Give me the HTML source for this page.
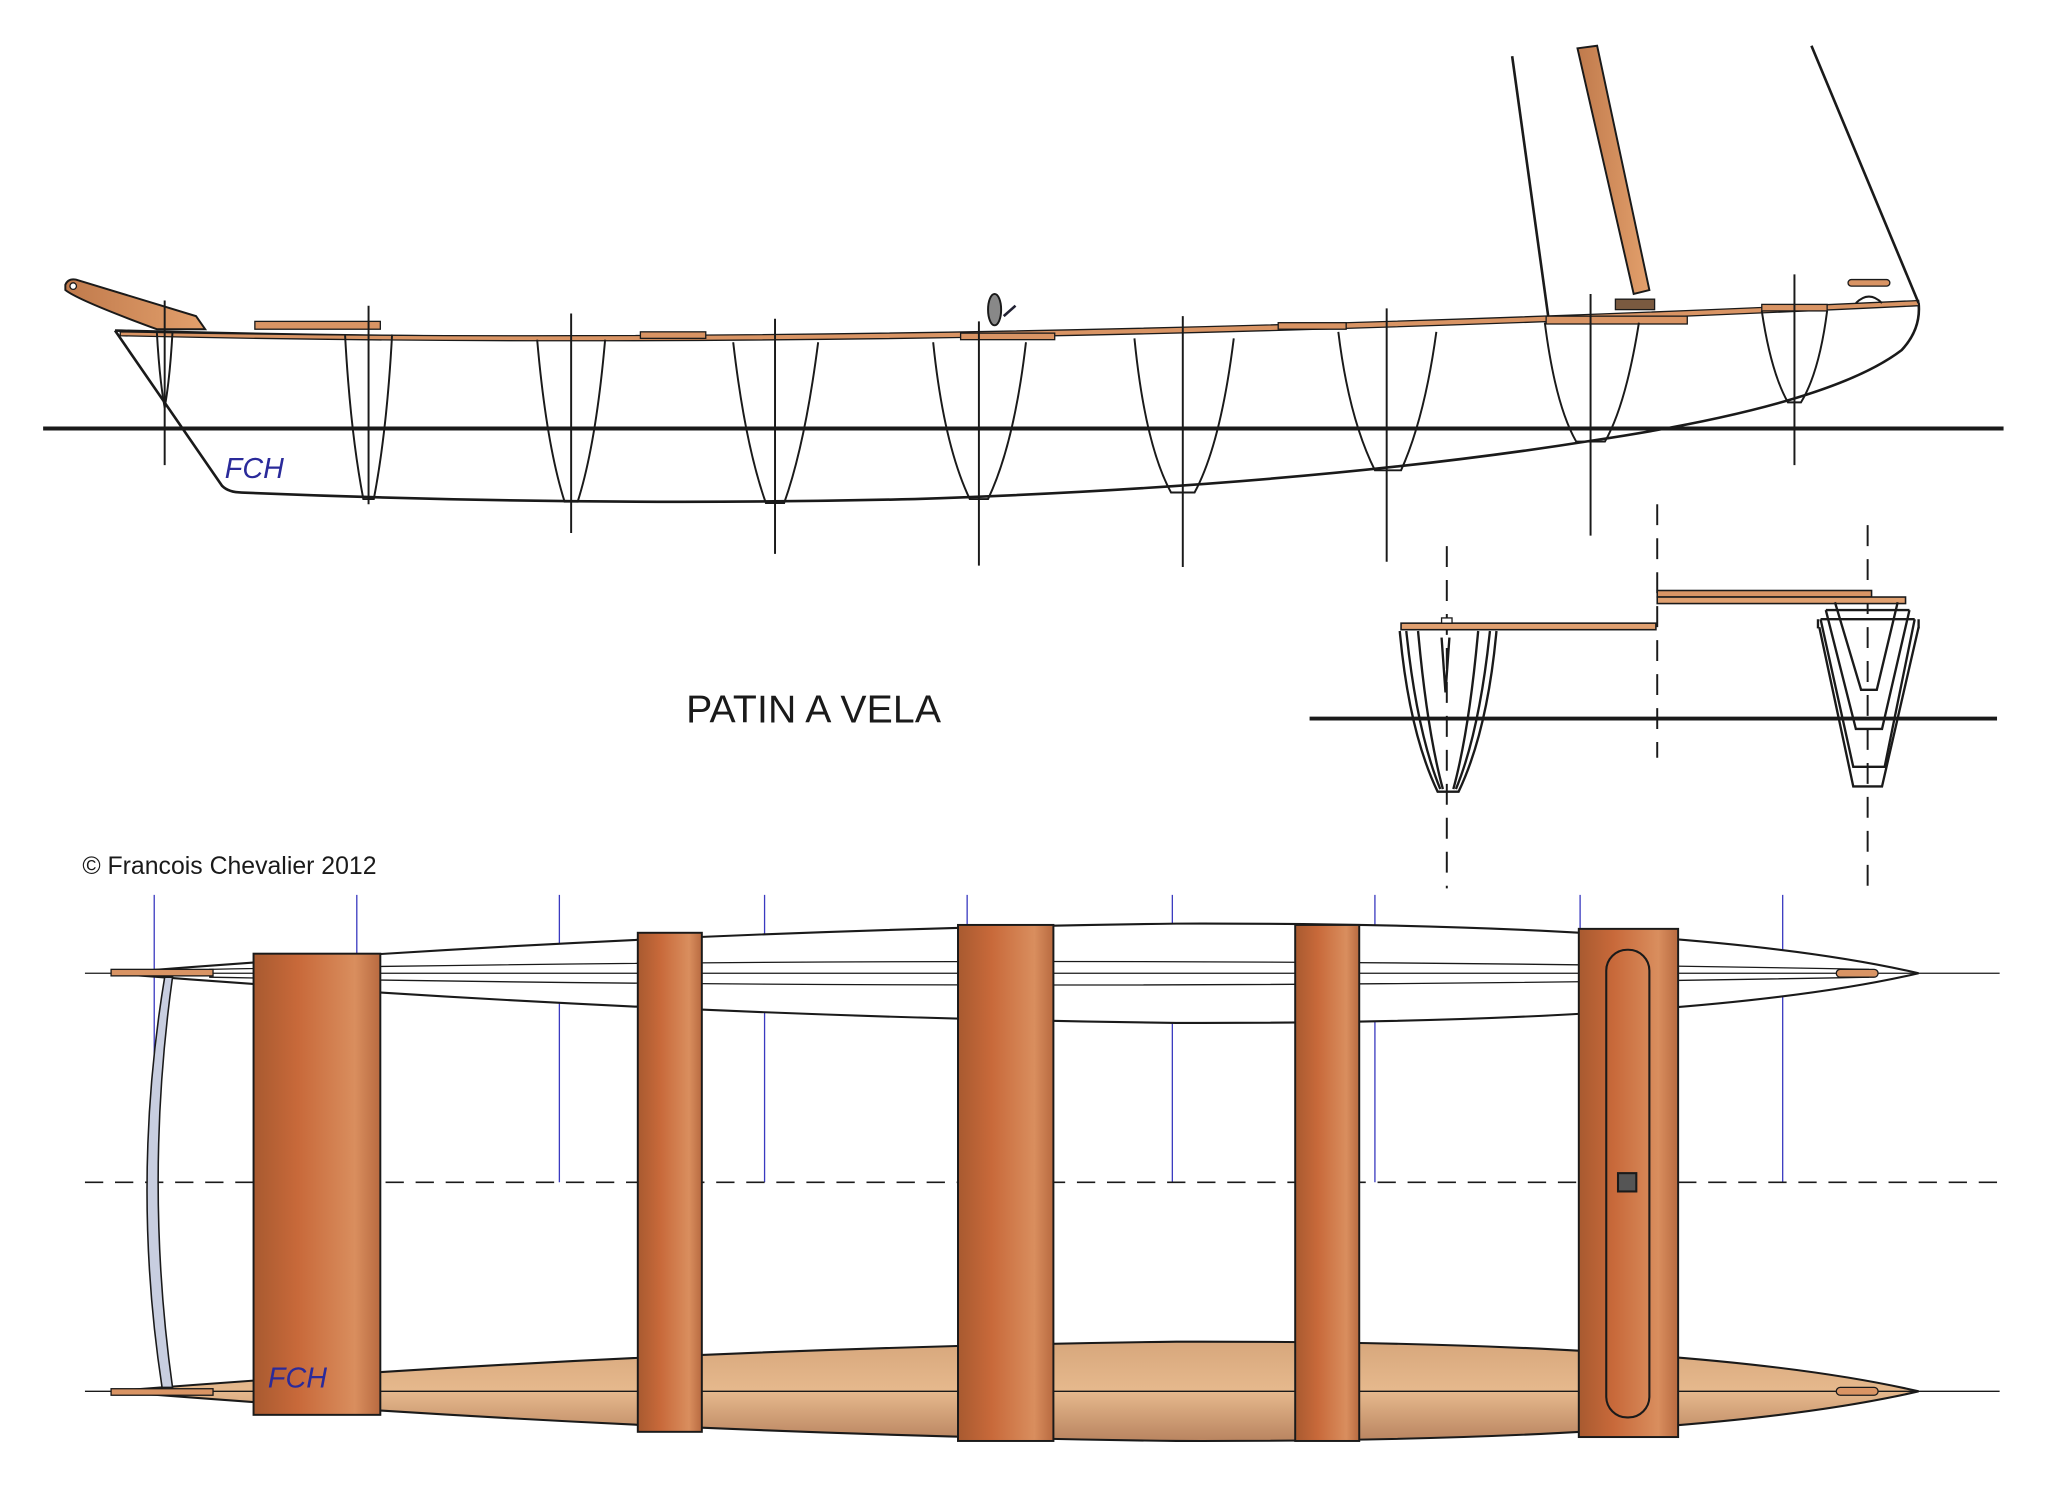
<!DOCTYPE html>
<html><head><meta charset="utf-8"><style>html,body{margin:0;padding:0;background:#fff}svg{display:block}</style></head>
<body>
<svg width="2048" height="1488" viewBox="0 0 1567 1139" preserveAspectRatio="none" xmlns="http://www.w3.org/2000/svg" font-family="Liberation Sans, sans-serif">
<defs>
<linearGradient id="beam" x1="0" x2="1" y1="0" y2="0">
<stop offset="0" stop-color="#a85a30"/><stop offset="0.35" stop-color="#c8693a"/><stop offset="0.8" stop-color="#d98e5e"/><stop offset="1" stop-color="#b86a40"/></linearGradient>
<linearGradient id="fl" x1="0" x2="0" y1="0" y2="1">
<stop offset="0" stop-color="#d7a77c"/><stop offset="0.5" stop-color="#e6b98d"/><stop offset="1" stop-color="#b98460"/></linearGradient>
<linearGradient id="wood" x1="0" x2="1"><stop offset="0" stop-color="#c07a4c"/><stop offset="1" stop-color="#e3a06c"/></linearGradient>
</defs>
<g fill="none" stroke="#1a1a1a" stroke-width="2">
<line x1="33" y1="328" x2="1533" y2="328" stroke-width="3"/>
<path d="M88,253 L170,372 Q175,377 185,377 Q450,388 700,382 Q1000,372 1220,337 Q1400,310 1455,268 Q1470,252 1468,232"/>
<path d="M88,253 Q700,270 1468,232" stroke-width="2"/>
<path d="M92,254 Q700,266 1468,230 L1468,234 Q700,271 92,257Z" fill="#d99464" stroke-width="1"/>
<line x1="1157" y1="43" x2="1185" y2="245"/>
<polygon points="1207,37 1222,35 1262,222 1250,225" fill="url(#wood)" stroke-width="1.5"/>
<line x1="1386" y1="35" x2="1468" y2="232"/>
<rect x="1236" y="229" width="30" height="8" fill="#7a5a40" stroke-width="1"/>
<rect x="1414" y="214" width="32" height="5" rx="2.5" fill="#d99464" stroke-width="1"/>
<path d="M1420,232 Q1430,222 1440,232" stroke-width="1.5"/>
<path d="M50,218 Q52,213 58,214 L150,242 L157,252 L120,252 Q60,230 50,222Z" fill="url(#wood)" stroke-width="1.5"/>
<circle cx="56" cy="219" r="2.5" fill="#fff" stroke-width="1"/>
<g fill="#d99464" stroke-width="1">
<rect x="195" y="246" width="96" height="6"/><rect x="490" y="254" width="50" height="5"/>
<rect x="735" y="255" width="72" height="5"/><rect x="978" y="247" width="52" height="5"/>
<rect x="1183" y="242" width="108" height="6"/><rect x="1348" y="233" width="50" height="5"/>
</g>
<ellipse cx="761" cy="237" rx="5" ry="12" fill="#888" stroke-width="1.5"/>
<line x1="768" y1="242" x2="777" y2="234" stroke="#223" />
<g stroke-width="1.5">
<line x1="126" y1="230" x2="126" y2="356"/><path d="M120,254 Q122,290 126,312 Q130,290 132,254"/>
<line x1="282" y1="234" x2="282" y2="386"/><path d="M264,256 Q268,330 278,382 L286,382 Q296,330 300,256"/>
<line x1="437" y1="240" x2="437" y2="408"/><path d="M411,260 Q418,340 432,384 L442,384 Q456,340 463,260"/>
<line x1="593" y1="244" x2="593" y2="424"/><path d="M561,262 Q570,340 586,385 L600,385 Q616,340 626,262"/>
<line x1="749" y1="246" x2="749" y2="433"/><path d="M714,262 Q722,340 742,382 L756,382 Q776,340 785,262"/>
<line x1="905" y1="242" x2="905" y2="434"/><path d="M868,259 Q876,340 896,377 L914,377 Q934,340 944,259"/>
<line x1="1061" y1="236" x2="1061" y2="430"/><path d="M1024,254 Q1032,320 1052,360 L1072,360 Q1090,320 1099,254"/>
<line x1="1217" y1="225" x2="1217" y2="410"/><path d="M1182,247 Q1190,310 1206,338 L1228,338 Q1244,310 1254,247"/>
<line x1="1373" y1="210" x2="1373" y2="356"/><path d="M1348,238 Q1355,285 1368,308 L1378,308 Q1392,285 1398,238"/>
</g>
<text x="172" y="366" font-size="22" fill="#2a2a9a" stroke="none" font-style="italic">FCH</text>
<line x1="1002" y1="550" x2="1528" y2="550" stroke-width="3"/>
<g stroke-dasharray="16,10" stroke-width="1.5">
<line x1="1107" y1="418" x2="1107" y2="680"/><line x1="1268" y1="386" x2="1268" y2="580"/><line x1="1429" y1="402" x2="1429" y2="680"/>
</g>
<rect x="1072" y="477" width="195" height="5" fill="#e0a070" stroke-width="1.2"/>
<rect x="1268" y="452" width="164" height="5" fill="#d99464" stroke-width="1.2"/>
<rect x="1268" y="457" width="190" height="5" fill="#e0a070" stroke-width="1.2"/>
<rect x="1103" y="473" width="8" height="4" fill="#fff" stroke-width="1"/>
<g stroke-width="1.8">
<path d="M1071,483 Q1078,560 1100,606 L1116,606 Q1138,560 1145,483"/>
<path d="M1076,483 Q1084,560 1102,604 M1140,483 Q1132,560 1114,604"/>
<path d="M1085,483 Q1092,560 1104,604 M1131,483 Q1124,560 1112,604"/>
<path d="M1103,488 L1106,530 L1109,488"/>
<path d="M1404,461 L1424,528 L1436,528 L1452,461"/>
<path d="M1397,467 L1420,558 L1440,558 L1461,467"/>
<path d="M1393,474 L1418,587 L1442,587 L1465,474"/>
<path d="M1392,480 L1418,602 L1440,602 L1468,480"/>
<path d="M1391,474 L1391,481 M1468,474 L1468,481 M1397,467 L1461,467 M1393,474 L1465,474"/>
</g>
</g>
<text x="525" y="553" font-size="30" fill="#1a1a1a" textLength="195">PATIN A VELA</text>
<text x="63" y="669" font-size="19" fill="#1a1a1a">© Francois Chevalier  2012</text>
<g stroke="#3a3ac0" stroke-width="1">
<line x1="118" y1="685" x2="118" y2="905"/><line x1="273" y1="685" x2="273" y2="905"/><line x1="428" y1="685" x2="428" y2="905"/>
<line x1="585" y1="685" x2="585" y2="905"/><line x1="740" y1="685" x2="740" y2="905"/><line x1="897" y1="685" x2="897" y2="905"/>
<line x1="1052" y1="685" x2="1052" y2="905"/><line x1="1209" y1="685" x2="1209" y2="905"/><line x1="1364" y1="685" x2="1364" y2="905"/>
</g>
<g fill="none" stroke="#1a1a1a" stroke-width="1.6">
<path d="M85,745 Q500,712 900,707 Q1300,706 1468,745 Q1300,784 900,783 Q500,778 85,745Z" fill="#fff"/>
<path d="M160,742 Q800,730 1430,742 M160,748 Q800,760 1430,748" stroke-width="1"/>
<path d="M85,1065 Q500,1032 900,1027 Q1300,1026 1468,1065 Q1300,1104 900,1103 Q500,1098 85,1065Z" fill="url(#fl)"/>
<line x1="65" y1="745" x2="1530" y2="745" stroke-width="1"/>
<line x1="65" y1="1065" x2="1530" y2="1065" stroke-width="1"/>
<line x1="65" y1="905" x2="1530" y2="905" stroke-dasharray="14,9" stroke-width="1.2"/>
<rect x="85" y="742" width="78" height="5" fill="#d99464" stroke-width="1"/>
<rect x="85" y="1063" width="78" height="5" fill="#d99464" stroke-width="1"/>
<rect x="1405" y="742" width="32" height="6" rx="3" fill="#d99464" stroke-width="1"/>
<rect x="1405" y="1062" width="32" height="6" rx="3" fill="#d99464" stroke-width="1"/>
<path d="M126,748 Q100,905 124,1062 L132,1062 Q110,905 132,748Z" fill="#c8cee0" stroke-width="1.2"/>
<g stroke-width="1.5" fill="url(#beam)">
<rect x="194" y="730" width="97" height="353"/>
<rect x="488" y="714" width="49" height="382"/>
<rect x="733" y="708" width="73" height="395"/>
<rect x="991" y="708" width="49" height="395"/>
<rect x="1208" y="711" width="76" height="389"/>
</g>
<rect x="1229" y="727" width="33" height="358" rx="16"/>
<rect x="1238" y="898" width="14" height="14" fill="#555"/>
</g>
<text x="205" y="1062" font-size="22" fill="#2a2a9a" font-style="italic">FCH</text>
</svg>
</body></html>
